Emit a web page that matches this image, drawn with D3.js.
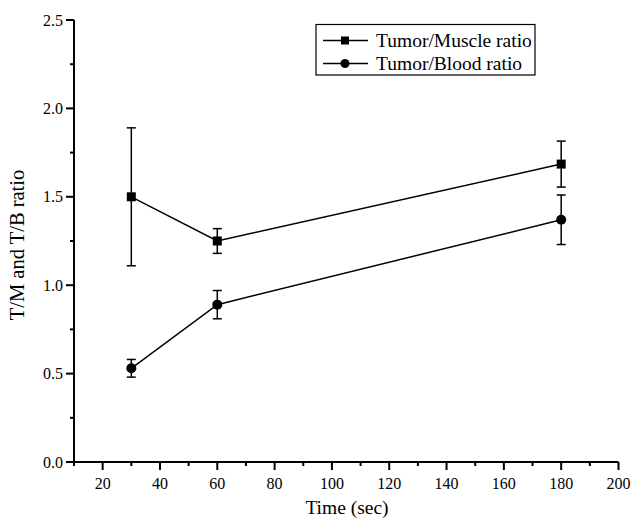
<!DOCTYPE html>
<html><head><meta charset="utf-8">
<script src="https://cdn.jsdelivr.net/npm/d3@7"></script>
<style>body{margin:0;background:#fff}svg{display:block}</style>
</head><body>
<svg id="c" width="632" height="523"></svg>
<script>
const times = [30, 60, 180];
const muscleMean = [1.50, 1.25, 1.685];
const muscleErr  = [0.39, 0.07, 0.13];
const bloodMean  = [0.53, 0.89, 1.37];
const bloodErr   = [0.05, 0.08, 0.14];
const xTicks = [20, 40, 60, 80, 100, 120, 140, 160, 180, 200];
const yTicks = [0.0, 0.5, 1.0, 1.5, 2.0, 2.5];
const xMinor = [10, 30, 50, 70, 90, 110, 130, 150, 170, 190];
const yMinor = [0.25, 0.75, 1.25, 1.75, 2.25];
const seriesNames = ["Tumor/Muscle ratio", "Tumor/Blood ratio"];

const svg = d3.select("#c");
const font = "'Liberation Serif','Times New Roman',serif";
const x = d3.scaleLinear().domain([10, 200]).range([74, 618.5]);
const y = d3.scaleLinear().domain([0, 2.5]).range([462, 20]);

const gx = svg.append("g").attr("transform", "translate(0,462)");
gx.append("line").attr("x1", x(10)).attr("x2", x(200)).attr("stroke", "#000").attr("stroke-width", 2);
gx.selectAll(".mj").data(xTicks).join("line")
  .attr("x1", d => x(d)).attr("x2", d => x(d)).attr("y1", 0).attr("y2", 8)
  .attr("stroke", "#000").attr("stroke-width", 2);
gx.selectAll(".mn").data(xMinor).join("line")
  .attr("x1", d => x(d)).attr("x2", d => x(d)).attr("y1", 0).attr("y2", 4)
  .attr("stroke", "#000").attr("stroke-width", 2);
gx.selectAll("text").data(xTicks).join("text")
  .attr("x", d => x(d)).attr("y", 27).attr("text-anchor", "middle")
  .attr("font-family", font).attr("font-size", 16).text(d => d);

const gy = svg.append("g").attr("transform", "translate(74,0)");
gy.append("line").attr("y1", y(0)).attr("y2", y(2.5)).attr("stroke", "#000").attr("stroke-width", 2);
gy.selectAll(".mj").data(yTicks).join("line")
  .attr("y1", d => y(d)).attr("y2", d => y(d)).attr("x1", 0).attr("x2", -8)
  .attr("stroke", "#000").attr("stroke-width", 2);
gy.selectAll(".mn").data(yMinor).join("line")
  .attr("y1", d => y(d)).attr("y2", d => y(d)).attr("x1", 0).attr("x2", -4)
  .attr("stroke", "#000").attr("stroke-width", 2);
gy.selectAll("text").data(yTicks).join("text")
  .attr("x", -11).attr("y", d => y(d)).attr("dy", "0.35em").attr("text-anchor", "end")
  .attr("font-family", font).attr("font-size", 16).text(d => d.toFixed(1));

svg.append("text").attr("x", 347).attr("y", 514).attr("text-anchor", "middle")
  .attr("font-family", font).attr("font-size", 19.5).text("Time (sec)");
svg.append("text").attr("transform", "translate(24,245) rotate(-90)").attr("text-anchor", "middle")
  .attr("font-family", font).attr("font-size", 20.5).text("T/M and T/B ratio");

function drawSeries(means, errs, shape) {
  const pts = times.map((t, i) => ({t, m: means[i], e: errs[i]}));
  const g = svg.append("g");
  g.append("path").datum(pts)
    .attr("d", d3.line().x(d => x(d.t)).y(d => y(d.m)))
    .attr("fill", "none").attr("stroke", "#000").attr("stroke-width", 1.5);
  pts.forEach(p => {
    const cx = x(p.t);
    g.append("line").attr("x1", cx).attr("x2", cx).attr("y1", y(p.m + p.e)).attr("y2", y(p.m - p.e))
      .attr("stroke", "#000").attr("stroke-width", 1.5);
    [p.m + p.e, p.m - p.e].forEach(v => {
      g.append("line").attr("x1", cx - 4.5).attr("x2", cx + 4.5).attr("y1", y(v)).attr("y2", y(v))
        .attr("stroke", "#000").attr("stroke-width", 1.5);
    });
    if (shape === "square") {
      g.append("rect").attr("x", cx - 4.5).attr("y", y(p.m) - 4.5).attr("width", 9).attr("height", 9).attr("fill", "#000");
    } else {
      g.append("circle").attr("cx", cx).attr("cy", y(p.m)).attr("r", 5).attr("fill", "#000");
    }
  });
}
drawSeries(muscleMean, muscleErr, "square");
drawSeries(bloodMean, bloodErr, "circle");

const lg = svg.append("g");
lg.append("rect").attr("x", 316).attr("y", 24.5).attr("width", 219).attr("height", 50.5)
  .attr("fill", "#fff").attr("stroke", "#000").attr("stroke-width", 1.2);
seriesNames.forEach((n, i) => {
  const cy = 40.5 + i * 23;
  lg.append("line").attr("x1", 323).attr("x2", 368).attr("y1", cy).attr("y2", cy)
    .attr("stroke", "#000").attr("stroke-width", 1.5);
  if (i === 0) lg.append("rect").attr("x", 341).attr("y", cy - 4).attr("width", 8).attr("height", 8).attr("fill", "#000");
  else lg.append("circle").attr("cx", 345).attr("cy", cy).attr("r", 4.5).attr("fill", "#000");
  lg.append("text").attr("x", 376).attr("y", cy).attr("dy", "0.35em")
    .attr("font-family", font).attr("font-size", 19.5).text(n);
});
</script>
</body></html>
